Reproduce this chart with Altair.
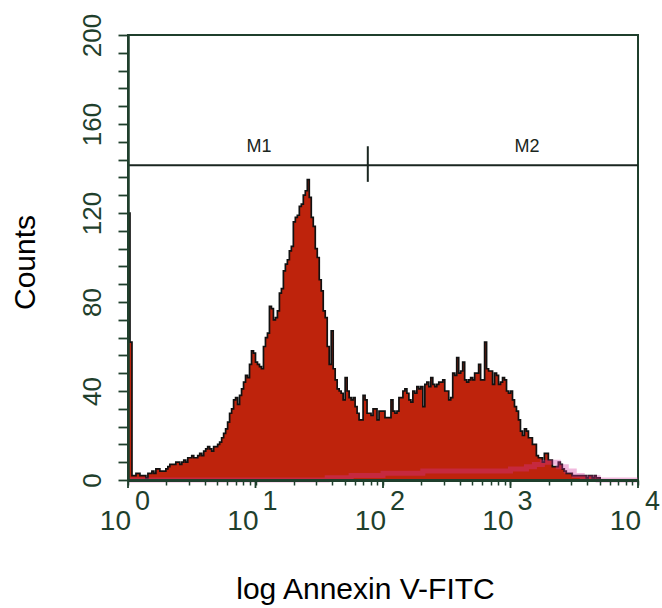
import altair as alt
import pandas as pd

# ---- histogram counts, 64 bins per decade (log channels) ----
decade0_counts = [120, 62, 2, 2, 3, 3, 2, 2, 2, 1, 3, 3, 4, 3, 5, 5, 4, 4, 4, 5,
                  6, 7, 7, 7, 8, 8, 7, 8, 9, 8, 10, 10, 11, 10, 10, 11, 12, 11, 13, 14,
                  15, 14, 13, 15, 15, 16, 17, 19, 21, 23, 26, 30, 32, 36, 37, 34, 38, 41, 44, 47,
                  46, 52, 58, 57]
decade1_counts = [53, 52, 51, 50, 60, 64, 66, 78, 77, 72, 73, 76, 84, 86, 94, 97, 99, 103, 105, 116,
                  118, 119, 123, 124, 128, 130, 135, 127, 118, 114, 104, 100, 90, 85, 76, 73, 60, 52, 67, 50,
                  45, 41, 40, 39, 36, 46, 40, 37, 36, 37, 33, 30, 27, 27, 38, 36, 30, 30, 29, 32,
                  32, 27, 31, 31]
decade2_counts = [31, 28, 28, 28, 36, 31, 30, 31, 37, 37, 40, 41, 39, 36, 35, 40, 39, 42, 41, 42,
                  33, 43, 44, 42, 46, 43, 42, 43, 44, 44, 45, 40, 40, 36, 37, 48, 47, 55, 48, 49,
                  53, 45, 44, 45, 46, 45, 48, 48, 52, 45, 45, 62, 50, 49, 49, 43, 48, 47, 43, 44,
                  46, 45, 40, 39]
decade3_counts = [40, 36, 33, 31, 27, 22, 20, 23, 22, 19, 19, 16, 16, 11, 10, 10, 8, 12, 12, 9,
                  9, 6, 6, 6, 8, 7, 5, 4, 3, 3, 3, 2, 2, 2, 2, 2, 2, 2, 1, 2,
                  2, 1, 2, 1, 1, 0, 0, 0, 0, 0, 0, 0, 0, 0, 0, 0, 0, 0, 0, 0,
                  0, 0, 0, 0]

# ---- overlaid control histogram (magenta), 16 bins per decade ----
control_counts = [0, 0, 0, 0, 0, 0, 0, 0, 0, 0, 0, 0, 0, 0, 0, 0,
                  0, 0, 0, 0, 0, 0, 0, 0, 0, 1, 1, 1, 2, 2, 2, 2,
                  3, 3, 3, 3, 3, 4, 4, 4, 4, 4, 4, 4, 4, 4, 4, 4,
                  5, 5, 6, 7, 8, 8, 6, 4, 2, 1, 1, 0, 0, 0, 0, 0]

decade_exponents = [0, 1, 2, 3, 4]
minor_multipliers = [1, 2, 3, 4, 5, 6, 7, 8, 9]
y_tick_values = list(range(0, 201, 8))

marker_names = ["M1", "M2"]
marker_label_x = [10.65, 1346]
marker_label_count = 147.4
marker_level = 141.5
gate_boundary = 76
gate_tick_low, gate_tick_high = 134, 150

AX = "#1f3f2c"
FILL = "#be230c"
FONT = "Liberation Sans"

counts = decade0_counts + decade1_counts + decade2_counts + decade3_counts
n = len(counts)
hist = pd.DataFrame({
    "x": [10 ** (i / 64) for i in range(n)] + [10 ** 4],
    "count": counts + [counts[-1]],
})
ctrl = pd.DataFrame({
    "x": [10 ** (i / 16) for i in range(len(control_counts))] + [10 ** 4],
    "count": control_counts + [control_counts[-1]],
})

xscale = alt.Scale(type="log", domain=[1, 10000], nice=False)
yscale = alt.Scale(domain=[0, 200], nice=False, zero=True)

minor_vals = [m * 10 ** e for e in range(4) for m in minor_multipliers] + [10000]

x_axis = alt.Axis(values=minor_vals, labels=False, tickSize=5, tickWidth=1.5,
                  tickColor=AX, domainColor=AX, domainWidth=3, grid=False, zindex=1,
                  title="log Annexin V-FITC", titleFont=FONT, titleFontSize=30,
                  titleFontWeight="normal", titleColor="black",
                  titleX=237, titleY=118, titleAlign="center", titleBaseline="alphabetic")
y_axis = alt.Axis(values=y_tick_values,
                  labelExpr="datum.value % 40 == 0 ? datum.label : ''",
                  labelOverlap=False, labelAngle=270, labelAlign="center",
                  labelBaseline="alphabetic", labelPadding=18, labelFont=FONT,
                  labelFontSize=26, labelColor=AX, tickSize=10, tickWidth=1.8,
                  tickColor=AX, domainColor=AX, domainWidth=2.5, grid=False, zindex=1,
                  title="Counts", titleFont=FONT, titleFontSize=30, titleFontWeight="normal",
                  titleColor="black", titleAngle=270, titleX=-103, titleY=227,
                  titleAlign="center", titleBaseline="middle")

X = alt.X("x:Q", scale=xscale, axis=x_axis)
Y = alt.Y("count:Q", scale=yscale, axis=y_axis)

area = alt.Chart(hist).mark_area(
    interpolate="step-after", color=FILL, opacity=1,
    line={"color": "#111111", "strokeWidth": 1.7},
).encode(x=X, y=Y)

control = alt.Chart(ctrl).mark_line(
    interpolate="step-after", color="#d8379e", strokeWidth=5, opacity=0.35,
).encode(x=X, y=Y)

marker_df = pd.DataFrame({"x": [1], "x2": [10000], "count": [marker_level]})
marker_line = alt.Chart(marker_df).mark_rule(color="#1a2620", strokeWidth=2).encode(
    x=X, x2="x2:Q", y=Y,
)

gate_df = pd.DataFrame({"x": [gate_boundary], "count": [gate_tick_low], "c2": [gate_tick_high]})
gate_tick = alt.Chart(gate_df).mark_rule(color="#1a2620", strokeWidth=2).encode(
    x=X, y=Y, y2="c2:Q",
)

mlab_df = pd.DataFrame({"x": marker_label_x, "count": [marker_label_count] * 2, "name": marker_names})
marker_labels = alt.Chart(mlab_df).mark_text(
    font=FONT, fontSize=18, color="#1a2620", align="center", baseline="alphabetic",
).encode(x=X, y=Y, text="name:N")

xlab_df = pd.DataFrame({"x": [10 ** e for e in decade_exponents],
                        "base": ["10"] * len(decade_exponents),
                        "exp": [str(e) for e in decade_exponents]})
base_text = alt.Chart(xlab_df).mark_text(
    font=FONT, fontSize=28, color=AX, align="right", baseline="alphabetic", dx=3,
).encode(x=X, y=alt.value(495), text="base:N")
exp_text = alt.Chart(xlab_df).mark_text(
    font=FONT, fontSize=27, color=AX, align="left", baseline="alphabetic", dx=7,
).encode(x=X, y=alt.value(475), text="exp:N")
major_ticks = alt.Chart(xlab_df).mark_rule(color=AX, strokeWidth=1.8).encode(
    x=X, y=alt.value(445), y2=alt.value(453),
)

chart = alt.layer(
    area, control, marker_line, gate_tick, marker_labels, base_text, exp_text, major_ticks
).properties(
    width=510, height=445,
    autosize=alt.AutoSizeParams(type="none"),
    padding={"left": 128, "top": 35, "right": 24, "bottom": 128},
    background="white",
).configure_view(stroke=AX, strokeWidth=2)

chart.save("out.html", embed_options={"renderer": "svg", "actions": False})
